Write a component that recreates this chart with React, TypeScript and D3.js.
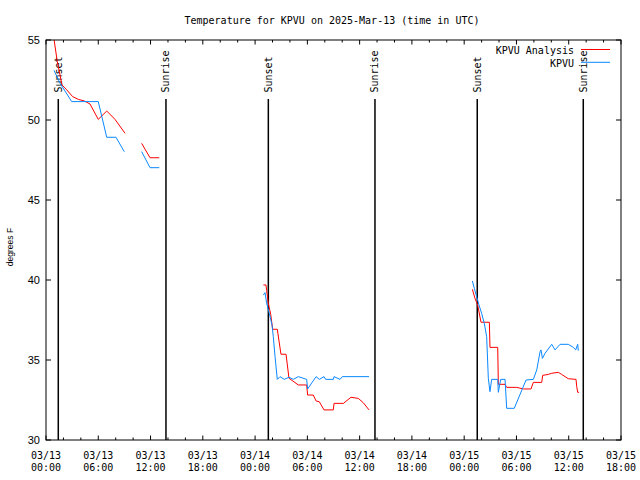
import React from "react";
import * as d3 from "d3";

// Hours since 2025-03-13 00:00 UTC
const analysisHours: (number | null)[] = [
  0.85, 1.3, 1.84, 2.38, 3.06, 3.71, 4.4, 5.05, 6.0, 6.97, 7.92, 9.07, null,
  10.98, 11.94, 13.0, null,
  24.95, 25.25, 25.33, 25.52, 25.79, 26.02, 26.55, 26.97, 27.55, 27.89, 28.96, 29.92, 30.03, 30.68, 31.0, 31.37, 31.91, 32.98, 33.06, 34.13, 35.01, 35.85, 36.42, 37.08, null,
  48.94, 49.24, 49.55, 49.93, 50.89, 50.96, 51.85, 51.92, 52.69, 52.88, 54.03, 54.79, 55.67, 55.94, 56.9, 57.01, 57.66, 58.05, 58.8, 59.19, 59.95, 60.84, 60.92, 61.03, 61.18,
];
const analysisTemps: (number | null)[] = [
  55.3, 53.64, 52.19, 51.88, 51.46, 51.29, 51.19, 51.0, 50.04, 50.56, 50.04, 49.17, null,
  48.54, 47.64, 47.64, null,
  39.69, 39.69, 39.33, 38.54, 37.86, 36.92, 36.92, 35.36, 35.36, 33.86, 33.44, 33.44, 32.81, 32.81, 32.44, 32.39, 31.88, 31.88, 32.29, 32.29, 32.67, 32.6, 32.33, 31.88, null,
  39.42, 38.85, 38.44, 37.36, 37.36, 35.79, 35.79, 33.48, 33.48, 33.29, 33.29, 33.19, 33.19, 33.6, 33.6, 34.04, 34.1, 34.17, 34.23, 34.1, 33.83, 33.79, 33.33, 32.98, 32.98,
];

const obsHours: (number | null)[] = [
  0.92, 1.61, 2.95, 6.0, 6.97, 8.03, 8.99, null,
  10.98, 11.94, 13.0, null,
  24.95, 25.14, 25.33, 25.63, 25.94, 26.09, 26.29, 26.55, 26.86, 27.35, 27.89, 28.39, 28.96, 29.92, 30.03, 31.0, 31.37, 31.91, 32.1, 32.98, 33.06, 33.75, 34.01, 37.08, null,
  48.94, 49.16, 49.43, 49.7, 50.0, 50.31, 50.58, 50.77, 50.96, 51.15, 51.85, 51.92, 52.19, 52.69, 52.88, 53.75, 55.1, 55.94, 56.33, 56.71, 56.82, 56.98, 57.28, 58.05, 58.43, 59.0, 59.95, 60.53, 60.8, 61.03, 61.1,
];
const obsTemps: (number | null)[] = [
  53.1, 52.3, 51.15, 51.15, 48.92, 48.92, 48.02, null,
  48.02, 47.02, 47.02, null,
  39.06, 39.21, 38.54, 37.92, 37.19, 36.46, 35.21, 33.79, 33.96, 33.79, 33.92, 33.79, 33.96, 33.79, 33.19, 33.96, 33.79, 33.96, 33.79, 33.79, 33.96, 33.79, 33.96, 33.96, null,
  39.94, 39.48, 38.96, 38.44, 37.92, 37.29, 36.46, 33.86, 33.02, 33.79, 33.79, 32.98, 33.79, 33.79, 31.98, 31.98, 33.75, 33.79, 34.38, 35.52, 35.63, 35.1, 35.42, 35.98, 35.63, 35.98, 35.98, 35.79, 35.63, 35.98, 35.58,
];

const sunHours = [1.41, 13.77, 25.52, 37.76, 49.5, 61.67];
const sunLabels = ["Sunset", "Sunrise", "Sunset", "Sunrise", "Sunset", "Sunrise"];

const xTickHours = [0, 6, 12, 18, 24, 30, 36, 42, 48, 54, 60, 66];
const xTickDates = ["03/13", "03/13", "03/13", "03/13", "03/14", "03/14", "03/14", "03/14", "03/15", "03/15", "03/15", "03/15"];
const xTickTimes = ["00:00", "06:00", "12:00", "18:00", "00:00", "06:00", "12:00", "18:00", "00:00", "06:00", "12:00", "18:00"];
const yTicks = [30, 35, 40, 45, 50, 55];

const seriesNames = ["KPVU Analysis", "KPVU"];
const seriesColors = ["#ff0000", "#0a88ff"];

const W = 640, H = 480;
const L = 46, R = 621, T = 40, B = 440;
const mono = "'DejaVu Sans Mono', monospace";
const sans = "'Liberation Sans', Arial, sans-serif";

export default function App() {
  const x = d3.scaleLinear().domain([0, 66]).range([L, R]);
  const y = d3.scaleLinear().domain([30, 55]).range([B, T]);

  const mk = (hs: (number | null)[], ts: (number | null)[]) => {
    const pts = hs.map((h, i) => [h, ts[i]] as [number | null, number | null]);
    return d3
      .line<[number | null, number | null]>()
      .defined((d) => d[0] != null && d[1] != null)
      .x((d) => x(d[0] as number))
      .y((d) => y(d[1] as number))(pts) || "";
  };

  const minorHours = d3.range(0, 67, 2).filter((h) => h % 6 !== 0);

  return (
    <svg width={W} height={H} style={{ position: "absolute", left: 0, top: 0, background: "#fff" }}>
      <rect x={0} y={0} width={W} height={H} fill="#fff" />
      <defs>
        <clipPath id="plotclip">
          <rect x={L} y={T} width={R - L} height={B - T} />
        </clipPath>
      </defs>
      <text x={332} y={24} textAnchor="middle" fontFamily={mono} fontSize={10} fill="#000">
        Temperature for KPVU on 2025-Mar-13 (time in UTC)
      </text>

      {/* y ticks */}
      {yTicks.map((v) => (
        <g key={"y" + v}>
          <line x1={L} x2={L + 5} y1={y(v)} y2={y(v)} stroke="#000" />
          <line x1={R - 5} x2={R} y1={y(v)} y2={y(v)} stroke="#000" />
          <text x={40} y={y(v)} dy="0.36em" textAnchor="end" fontFamily={sans} fontSize={11} fill="#000">
            {v}
          </text>
        </g>
      ))}
      <text
        transform={`translate(13,${(T + B) / 2 + 7}) rotate(-90)`}
        textAnchor="middle"
        fontFamily={sans}
        fontSize={8.5}
        fill="#000"
      >
        degrees F
      </text>

      {/* x ticks */}
      {xTickHours.map((h, i) => (
        <g key={"x" + h}>
          <line x1={x(h)} x2={x(h)} y1={B} y2={B - 4.5} stroke="#000" />
          <line x1={x(h)} x2={x(h)} y1={T} y2={T + 4.5} stroke="#000" />
          <text x={x(h)} y={458.5} textAnchor="middle" fontFamily={mono} fontSize={10} fill="#000">
            {xTickDates[i]}
          </text>
          <text x={x(h)} y={470.5} textAnchor="middle" fontFamily={mono} fontSize={10} fill="#000">
            {xTickTimes[i]}
          </text>
        </g>
      ))}
      {minorHours.map((h) => (
        <g key={"m" + h}>
          <line x1={x(h)} x2={x(h)} y1={B} y2={B - 2.5} stroke="#000" />
          <line x1={x(h)} x2={x(h)} y1={T} y2={T + 2.5} stroke="#000" />
        </g>
      ))}

      {/* sun lines */}
      {sunHours.map((h, i) => (
        <g key={"s" + i}>
          <line x1={x(h)} x2={x(h)} y1={99} y2={B} stroke="#000" strokeWidth={1.5} />
          <text
            transform={`translate(${x(h)},92.5) rotate(-90)`}
            dy="0.35em"
            textAnchor="start"
            fontFamily={mono}
            fontSize={10}
            fill="#000"
          >
            {sunLabels[i]}
          </text>
        </g>
      ))}

      <g clipPath="url(#plotclip)">
        <path d={mk(analysisHours, analysisTemps)} fill="none" stroke={seriesColors[0]} strokeWidth={1} />
        <path d={mk(obsHours, obsTemps)} fill="none" stroke={seriesColors[1]} strokeWidth={1} />
      </g>

      <rect x={L} y={T} width={R - L} height={B - T} fill="none" stroke="#000" strokeWidth={1} />

      {/* legend */}
      {seriesNames.map((n, i) => (
        <g key={"lg" + i}>
          <text x={574} y={54 + i * 12.5} textAnchor="end" fontFamily={mono} fontSize={10} fill="#000">
            {n}
          </text>
          <line x1={581} x2={610} y1={49.5 + i * 12.8} y2={49.5 + i * 12.8} stroke={seriesColors[i]} strokeWidth={1} />
        </g>
      ))}
    </svg>
  );
}
